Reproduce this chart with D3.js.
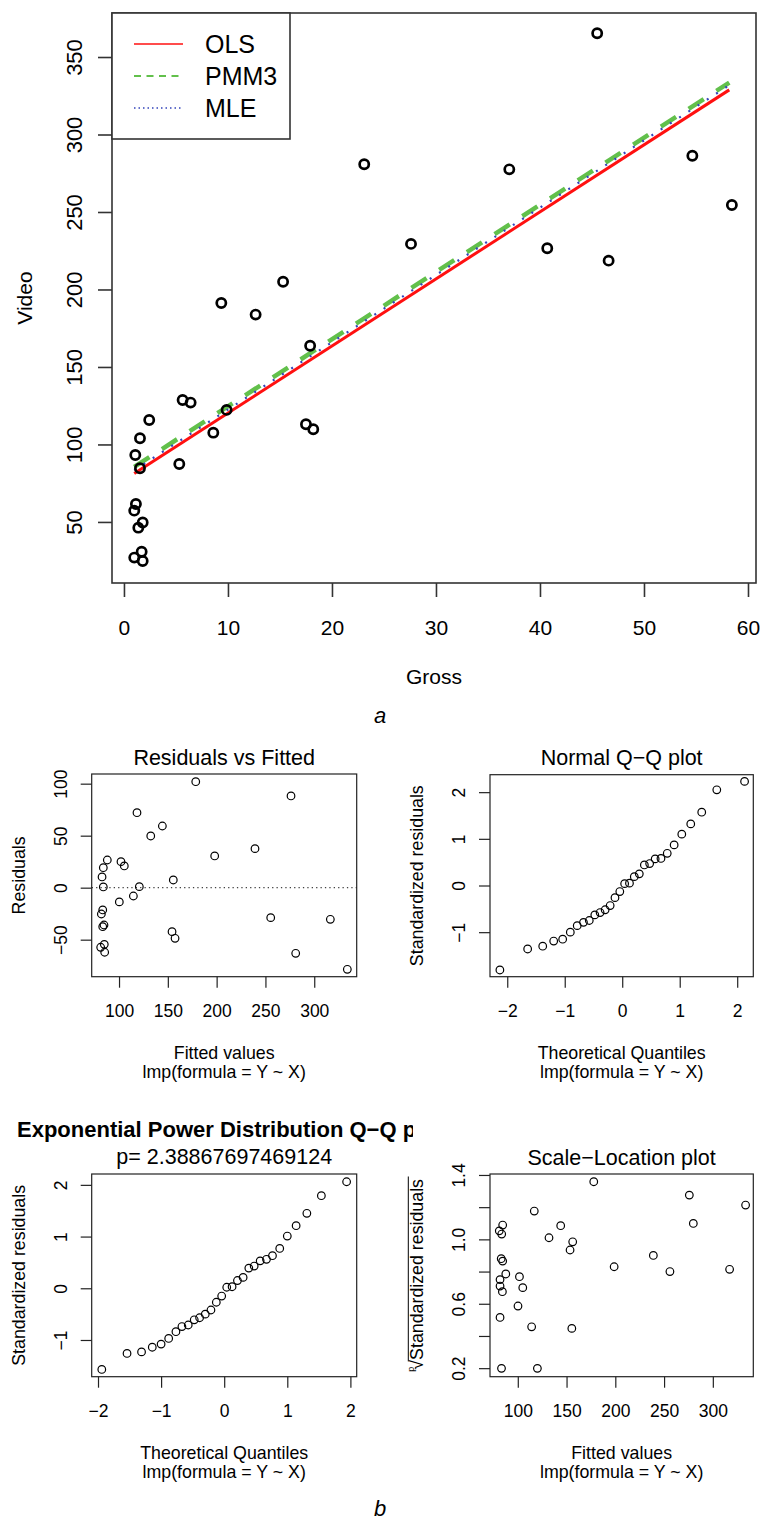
<!DOCTYPE html>
<html><head><meta charset="utf-8">
<script src="https://cdn.jsdelivr.net/npm/d3@7"></script>
<style>
body{margin:0;background:#fff}
svg{display:block}
text{font-family:"Liberation Sans",Arial,Helvetica,sans-serif;fill:#000}
</style>
</head><body>
<svg id="chart" width="760" height="1524"></svg>
<script>
// ---------- Panel a: Gross vs Video ----------
const gross = [23.1, 15.3, 9.36, 12.66, 45.5, 37.05, 27.6, 40.7, 46.6, 54.65, 58.45, 17.9, 5.64, 6.41, 2.43, 1.54, 1.09, 9.87, 8.59, 17.5, 18.2, 5.32, 1.54, 1.15, 0.99, 1.8, 1.38, 1.7, 0.99, 1.8];
const video = [280.8, 205, 191.3, 183.8, 365.3, 277.5, 229.4, 226.6, 218.6, 286.3, 254.5, 163.7, 128.7, 127, 115.8, 104, 93.2, 122.3, 107.6, 113, 109.8, 87.4, 84.6, 61.6, 57.3, 49.6, 46.3, 30.8, 27, 24.8];
const fitX = [0.99, 58.2];
const olsY = [81.3, 328.8];
const pmm3Y = [85.5, 333.5];
const mleY = [83.4, 331.8];
const legendNames = ["OLS", "PMM3", "MLE"];
const topXTicks = [0, 10, 20, 30, 40, 50, 60];
const topYTicks = [50, 100, 150, 200, 250, 300, 350];

// ---------- Panel b1: Residuals vs Fitted ----------
const rvfFitted = [178.6, 276.2, 118.4, 144.4, 132.5, 239.3, 198, 88, 102, 105.4, 83.9, 82.6, 155.6, 83.9, 120.8, 114.7, 100.3, 83.3, 81.9, 255.4, 316.5, 84.6, 83.3, 154.3, 157.4, 84.9, 81.2, 85.3, 281, 333.9];
const rvfResid = [101.9, 88.2, 72.1, 59.3, 49.7, 37.5, 30.5, 26.6, 25, 20.9, 19.2, 10.3, 7.4, 0.7, 1, -8, -13.7, -21.4, -25.3, -28.8, -30.4, -35.9, -37.5, -42.3, -48.7, -54.5, -57.3, -62.1, -63.1, -78.5];
const fittedTicks = [100, 150, 200, 250, 300];
const residTicks = [-50, 0, 50, 100];

// ---------- Panel b2: Normal Q-Q ----------
const nqqTheo = [-2.128, -1.645, -1.383, -1.192, -1.036, -0.903, -0.783, -0.674, -0.573, -0.477, -0.385, -0.297, -0.210, -0.126, -0.042, 0.042, 0.126, 0.210, 0.297, 0.385, 0.477, 0.573, 0.674, 0.783, 0.903, 1.036, 1.192, 1.383, 1.645, 2.128];
const nqqStd = [-1.81, -1.36, -1.30, -1.19, -1.15, -1.0, -0.86, -0.79, -0.75, -0.63, -0.58, -0.52, -0.43, -0.26, -0.13, 0.04, 0.05, 0.19, 0.25, 0.44, 0.47, 0.57, 0.58, 0.69, 0.87, 1.10, 1.32, 1.57, 2.05, 2.23];
const qqXTicks = [-2, -1, 0, 1, 2];
const qqYTicks = [-1, 0, 1, 2];

// ---------- Panel b3: Exponential Power Q-Q ----------
const epTheo = [-1.94, -1.54, -1.31, -1.14, -1.0, -0.88, -0.765, -0.67, -0.57, -0.475, -0.39, -0.30, -0.21, -0.125, -0.04, 0.04, 0.125, 0.21, 0.30, 0.39, 0.475, 0.57, 0.67, 0.765, 0.88, 1.0, 1.14, 1.31, 1.54, 1.94];
const epStd = [-1.57, -1.26, -1.23, -1.14, -1.08, -0.97, -0.84, -0.74, -0.71, -0.61, -0.57, -0.50, -0.42, -0.27, -0.15, 0.02, 0.03, 0.15, 0.21, 0.39, 0.43, 0.53, 0.56, 0.63, 0.77, 1.01, 1.21, 1.45, 1.79, 2.06];
const epP = "2.38867697469124";

// ---------- Panel b4: Scale-Location ----------
const slFitted = [177.9, 275.9, 333.6, 116.9, 280, 144, 84.5, 81, 83.5, 132, 156.3, 153.6, 239, 198.8, 256, 317.2, 87.7, 81.8, 101.7, 105.1, 81.8, 84.2, 100.2, 81.8, 114.2, 155.4, 83.3, 120.1, 83, 84.5];
const slSqrt = [1.358, 1.275, 1.213, 1.176, 1.099, 1.085, 1.089, 1.053, 1.033, 1.01, 0.985, 0.934, 0.90, 0.83, 0.80, 0.814, 0.785, 0.75, 0.768, 0.70, 0.71, 0.675, 0.586, 0.515, 0.457, 0.447, 0.199, 0.199, 0.88, 0.865];
const slYTicks = [0.2, 0.4, 0.6, 0.8, 1.0, 1.2, 1.4];
const slYLabels = ["0.2", "", "0.6", "", "1.0", "", "1.4"];

const MINUS = "\u2212";
const fmt = d => (d < 0 ? MINUS + Math.abs(d) : String(d));

const svg = d3.select("#chart");

function axisBottom(scale, ticks, labels, y0, tickLen, labelBase, fs, stroke, sw) {
  const g = svg.append("g").attr("transform", `translate(0,${y0})`)
    .call(d3.axisBottom(scale).tickValues(ticks).tickSize(tickLen).tickFormat((d, i) => labels[i]));
  g.attr("font-family", null).attr("font-size", fs);
  g.select(".domain").remove();
  g.selectAll(".tick line").attr("stroke", stroke).attr("stroke-width", sw);
  g.selectAll(".tick text").attr("y", labelBase).attr("dy", null).attr("fill", "#000");
  return g;
}
function axisLeft(scale, ticks, labels, x0, tickLen, labelOff, fs, stroke, sw) {
  const g = svg.append("g").attr("transform", `translate(${x0},0)`)
    .call(d3.axisLeft(scale).tickValues(ticks).tickSize(tickLen).tickFormat((d, i) => labels[i]));
  g.attr("font-family", null).attr("font-size", fs);
  g.select(".domain").remove();
  g.selectAll(".tick line").attr("stroke", stroke).attr("stroke-width", sw);
  g.selectAll(".tick text").attr("x", null).attr("dy", null).attr("fill", "#000")
    .attr("text-anchor", "middle").attr("transform", `translate(${-labelOff},0) rotate(-90)`);
  return g;
}
function box(x0, y0, x1, y1, stroke, sw) {
  svg.append("rect").attr("x", x0).attr("y", y0).attr("width", x1 - x0).attr("height", y1 - y0)
    .attr("fill", "none").attr("stroke", stroke).attr("stroke-width", sw);
}
function hText(x, y, str, fs, opts = {}) {
  const t = svg.append("text").attr("x", x).attr("y", y).attr("text-anchor", opts.anchor || "middle")
    .attr("font-size", fs).text(str);
  if (opts.weight) t.attr("font-weight", opts.weight);
  if (opts.style) t.attr("font-style", opts.style);
  return t;
}
function vText(x, y, str, fs) {
  return svg.append("text").attr("transform", `translate(${x},${y}) rotate(-90)`)
    .attr("text-anchor", "middle").attr("font-size", fs).text(str);
}
function points(xs, ys, sx, sy, r, sw) {
  svg.append("g").selectAll("circle").data(xs).join("circle")
    .attr("cx", d => sx(d)).attr("cy", (d, i) => sy(ys[i])).attr("r", r)
    .attr("fill", "none").attr("stroke", "#000").attr("stroke-width", sw);
}

// ================= Panel a =================
{
  const L = 112, R = 756, T = 13, B = 583;
  const x = d3.scaleLinear().domain([-1.15, 60.77]).range([L, R]);
  const y = d3.scaleLinear().domain([10.6, 378.4]).range([B, T]);
  const line = d3.line().x(d => x(d[0])).y(d => y(d[1]));

  svg.append("path").attr("d", line(fitX.map((v, i) => [v, pmm3Y[i]])))
    .attr("fill", "none").attr("stroke", "#62C04B").attr("stroke-width", 4.5).attr("stroke-dasharray", "18,15");
  svg.append("path").attr("d", line(fitX.map((v, i) => [v, olsY[i]])))
    .attr("fill", "none").attr("stroke", "#FF1010").attr("stroke-width", 3);
  svg.append("path").attr("d", line(fitX.map((v, i) => [v, mleY[i]])))
    .attr("fill", "none").attr("stroke", "#3344BB").attr("stroke-width", 2.2).attr("stroke-dasharray", "2,9");

  points(gross, video, x, y, 4.6, 2.7);

  box(L, T, R, B, "#333", 1.6);
  axisBottom(x, topXTicks, topXTicks.map(fmt), B, 14, 52, 21, "#333", 1.6);
  axisLeft(y, topYTicks, topYTicks.map(fmt), L, 14, 30, 22, "#333", 1.6);
  vText(31.5, (T + B) / 2, "Video", 21);
  hText((L + R) / 2, 684, "Gross", 21);
  hText(380, 723, "a", 22, { style: "italic" });

  // legend
  const lg = svg.append("g");
  lg.append("rect").attr("x", L).attr("y", T).attr("width", 290 - L).attr("height", 139 - T)
    .attr("fill", "#fff").attr("stroke", "#333").attr("stroke-width", 1.6);
  const lcol = ["#FF1010", "#62C04B", "#3344BB"];
  const ldash = [null, "7,5.5", "1.5,3"];
  const lw = [1.4, 1.8, 1.6];
  legendNames.forEach((nm, i) => {
    const ly = 44 + i * 32;
    const ln = lg.append("line").attr("x1", 134).attr("x2", 183).attr("y1", ly).attr("y2", ly)
      .attr("stroke", lcol[i]).attr("stroke-width", lw[i]);
    if (ldash[i]) ln.attr("stroke-dasharray", ldash[i]);
    lg.append("text").attr("x", 205).attr("y", ly + 9).attr("font-size", 25).text(nm);
  });
}

// ================= Panel b: four diagnostics =================
const FS_TICK = 17.5, FS_LAB = 17.8, FS_MAIN = 21.5;
const lmpText = "lmp(formula = Y ~ X)";

// b1 Residuals vs Fitted
{
  const L = 91.7, R = 356.7, T = 774, B = 976.7;
  const x = d3.scaleLinear().domain([72, 343.5]).range([L, R]);
  const y = d3.scaleLinear().domain([-85.6, 109.3]).range([B, T]);
  svg.append("line").attr("x1", L).attr("x2", R).attr("y1", y(0)).attr("y2", y(0))
    .attr("stroke", "#444").attr("stroke-width", 1.1).attr("stroke-dasharray", "1.3,3.1");
  points(rvfFitted, rvfResid, x, y, 3.8, 1.2);
  box(L, T, R, B, "#222", 1.2);
  axisBottom(x, fittedTicks, fittedTicks.map(fmt), B, 11, 40, FS_TICK, "#222", 1.2);
  axisLeft(y, residTicks, residTicks.map(fmt), L, 11, 25, FS_TICK, "#222", 1.2);
  hText((L + R) / 2, 765, "Residuals vs Fitted", FS_MAIN);
  hText((L + R) / 2, B + 82, "Fitted values", FS_LAB);
  hText((L + R) / 2, B + 101, lmpText, FS_LAB);
  vText(L - 66.7, (T + B) / 2, "Residuals", FS_LAB);
}

// b2 Normal Q-Q
{
  const L = 490, R = 753.3, T = 774.7, B = 976.7;
  const x = d3.scaleLinear().domain([-2.3, 2.28]).range([L, R]);
  const y = d3.scaleLinear().domain([-1.954, 2.374]).range([B, T]);
  points(nqqTheo, nqqStd, x, y, 3.8, 1.2);
  box(L, T, R, B, "#222", 1.2);
  axisBottom(x, qqXTicks, qqXTicks.map(fmt), B, 11, 40, FS_TICK, "#222", 1.2);
  axisLeft(y, qqYTicks, qqYTicks.map(fmt), L, 11, 25, FS_TICK, "#222", 1.2);
  hText((L + R) / 2, 765, "Normal Q" + MINUS + "Q plot", FS_MAIN);
  hText((L + R) / 2, B + 82, "Theoretical Quantiles", FS_LAB);
  hText((L + R) / 2, B + 101, lmpText, FS_LAB);
  vText(L - 66.7, (T + B) / 2, "Standardized residuals", FS_LAB);
}

// b3 Exponential Power Distribution Q-Q
{
  const L = 91.7, R = 356.7, T = 1174, B = 1376.7;
  const x = d3.scaleLinear().domain([-2.10, 2.10]).range([L, R]);
  const y = d3.scaleLinear().domain([-1.71, 2.21]).range([B, T]);
  points(epTheo, epStd, x, y, 3.8, 1.2);
  box(L, T, R, B, "#222", 1.2);
  axisBottom(x, qqXTicks, qqXTicks.map(fmt), B, 11, 40, FS_TICK, "#222", 1.2);
  axisLeft(y, qqYTicks, qqYTicks.map(fmt), L, 11, 25, FS_TICK, "#222", 1.2);
  svg.append("clipPath").attr("id", "titleClip").append("rect")
    .attr("x", 0).attr("y", 1100).attr("width", 413).attr("height", 50);
  hText(17, 1137, "Exponential Power Distribution Q" + MINUS + "Q plot", 22, { weight: "bold", anchor: "start" })
    .attr("clip-path", "url(#titleClip)");
  hText((L + R) / 2, 1164, "p= " + epP, FS_MAIN);
  hText((L + R) / 2, B + 82, "Theoretical Quantiles", FS_LAB);
  hText((L + R) / 2, B + 101, lmpText, FS_LAB);
  vText(L - 66.7, (T + B) / 2, "Standardized residuals", FS_LAB);
}

// b4 Scale-Location
{
  const L = 490, R = 753.3, T = 1174, B = 1376.7;
  const x = d3.scaleLinear().domain([71.5, 341.5]).range([L, R]);
  const y = d3.scaleLinear().domain([0.147, 1.406]).range([B, T]);
  points(slFitted, slSqrt, x, y, 3.8, 1.2);
  box(L, T, R, B, "#222", 1.2);
  axisBottom(x, fittedTicks, fittedTicks.map(fmt), B, 11, 40, FS_TICK, "#222", 1.2);
  axisLeft(y, slYTicks, slYLabels, L, 11, 25, FS_TICK, "#222", 1.2);
  hText((L + R) / 2, 1165, "Scale" + MINUS + "Location plot", FS_MAIN);
  hText((L + R) / 2, B + 82, "Fitted values", FS_LAB);
  hText((L + R) / 2, B + 101, lmpText, FS_LAB);
  // y label: p-th root of |standardized residuals|
  const g = svg.append("g").attr("transform", `translate(${L - 66.7},${(T + B) / 2}) rotate(-90)`);
  const t = g.append("text").attr("text-anchor", "middle").attr("font-size", FS_LAB);
  t.append("tspan").attr("font-size", 9).attr("dy", -9).text("p");
  t.append("tspan").attr("dy", 9).attr("dx", -3).text("\u221A");
  t.append("tspan").text("Standardized residuals");
  const node = t.node();
  const total = node.getComputedTextLength();
  const pre = node.getSubStringLength(0, 2);
  g.append("line").attr("x1", -total / 2 + pre - 3).attr("x2", total / 2 + 1)
    .attr("y1", -15).attr("y2", -15).attr("stroke", "#000").attr("stroke-width", 1);
}

hText(380, 1516, "b", 22, { style: "italic" });
</script>
</body></html>
